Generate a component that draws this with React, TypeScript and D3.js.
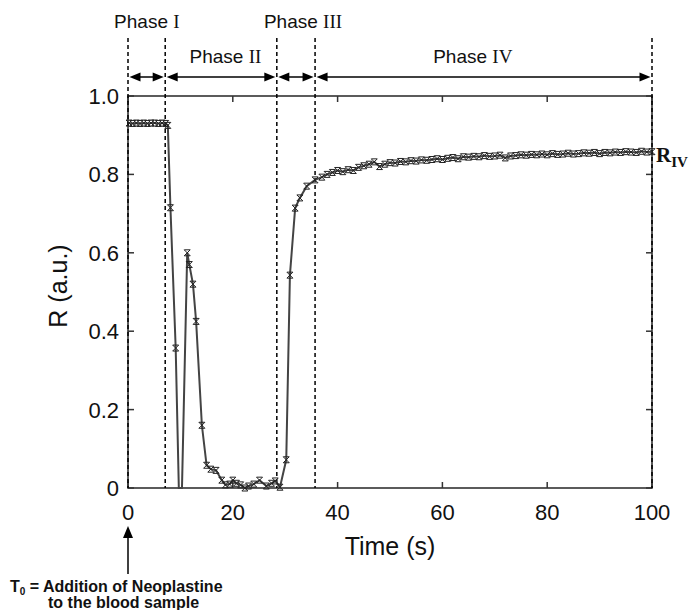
import React from "react";
import * as d3 from "d3";

const times: number[] = [
  0.2, 0.9, 1.6, 2.3, 3.0, 3.7, 4.4, 5.1, 5.8, 6.5, 7.2, 7.6,
  8.1, 9.1, 9.7, 10.3, 11.3, 11.7, 12.4, 13.0, 14.1, 15.0, 15.8, 16.8,
  17.9, 18.6, 19.4, 20.0, 20.7, 21.5, 22.3, 23.0, 24.0, 25.1, 26.4, 27.4,
  28.1, 29.0, 30.2, 30.9, 31.9, 32.8, 34.1, 35.7, 37, 38, 39, 40,
  41, 42, 43, 44, 45, 46, 47, 48, 49, 50, 51, 52, 53, 54, 55, 56, 57, 58, 59, 60,
  61, 62, 63, 64, 65, 66, 67, 68, 69, 70, 71, 72, 73, 74, 75, 76, 77, 78, 79, 80,
  81, 82, 83, 84, 85, 86, 87, 88, 89, 90, 91, 92, 93, 94, 95, 96, 97, 98, 99, 100,
];
const rValues: number[] = [
  0.931, 0.930, 0.931, 0.930, 0.931, 0.930, 0.931, 0.931, 0.930, 0.931, 0.930, 0.925,
  0.715, 0.357, 0.0, 0.0, 0.6, 0.57, 0.52, 0.425, 0.16, 0.058, 0.048, 0.045,
  0.02, 0.008, 0.01, 0.02, 0.012, 0.008, 0.0, 0.005, 0.01, 0.02, 0.005, 0.012,
  0.018, 0.002, 0.072, 0.543, 0.714, 0.74, 0.77, 0.786, 0.793, 0.8, 0.805, 0.81,
  0.807, 0.812, 0.81, 0.818, 0.822, 0.826, 0.832, 0.82, 0.826, 0.83, 0.829, 0.833, 0.832, 0.835, 0.834, 0.837, 0.836, 0.838, 0.84, 0.838,
  0.841, 0.843, 0.84, 0.845, 0.844, 0.846, 0.845, 0.848, 0.846, 0.847, 0.849, 0.842, 0.847, 0.848, 0.85, 0.849, 0.851, 0.85, 0.852, 0.85,
  0.853, 0.851, 0.852, 0.854, 0.852, 0.853, 0.855, 0.854, 0.856, 0.853, 0.856, 0.855, 0.857, 0.856, 0.858, 0.857, 0.856, 0.859, 0.857, 0.858,
];
// points in the dip that the line passes through without a marker
const unmarkedTimes: number[] = [9.7, 10.3];

const xTicks: number[] = [0, 20, 40, 60, 80, 100];
const yTicks: number[] = [0, 0.2, 0.4, 0.6, 0.8, 1.0];
const yTickLabels: string[] = ["0", "0.2", "0.4", "0.6", "0.8", "1.0"];
const phaseBounds: number[] = [0, 7.1, 28.4, 35.7, 100];
const phaseNames: string[] = ["I", "II", "III", "IV"];
const phaseLabelT: number[] = [3.6, 18.6, 33.4, 65.8];
const phaseLabelRow: number[] = [0, 1, 0, 1];

const W = 693;
const H = 610;
const left = 128, right = 652, top = 96, bottom = 488;

export default function App() {
  const x = d3.scaleLinear().domain([0, 100]).range([left, right]);
  const y = d3.scaleLinear().domain([0, 1]).range([bottom, top]);
  const pts = times.map((t, i) => [t, rValues[i]] as [number, number]);
  const line = d3.line<[number, number]>().x((d) => x(d[0])).y((d) => y(d[1]));
  const sans = "Arial, 'Liberation Sans', Helvetica, sans-serif";
  const serif = "'Times New Roman', 'Liberation Serif', Times, serif";
  const arrowY = 77;
  const ms = 3;
  const tickLen = 6;
  const axisColor = "#333";

  const arrowHead = (tipX: number, dir: number, yy: number) => {
    const l = 11, h = 4.5;
    return `M${tipX},${yy} L${tipX - dir * l},${yy - h} L${tipX - dir * l},${yy + h} Z`;
  };

  return (
    <svg width={W} height={H} style={{ position: "absolute", left: 0, top: 0, background: "#fff" }}>
      {/* frame */}
      <rect x={left} y={top} width={right - left} height={bottom - top} fill="none" stroke={axisColor} strokeWidth={1.6} />
      {/* ticks */}
      {xTicks.map((t) => (
        <g key={"xt" + t}>
          <line x1={x(t)} x2={x(t)} y1={bottom} y2={bottom - tickLen} stroke={axisColor} strokeWidth={1.5} />
          <line x1={x(t)} x2={x(t)} y1={top} y2={top + tickLen} stroke={axisColor} strokeWidth={1.5} />
          <text x={x(t)} y={520} textAnchor="middle" fontFamily={sans} fontSize={22} fill="#111">{t}</text>
        </g>
      ))}
      {yTicks.map((v, i) => (
        <g key={"yt" + v}>
          <line x1={left} x2={left + tickLen} y1={y(v)} y2={y(v)} stroke={axisColor} strokeWidth={1.5} />
          <line x1={right} x2={right - tickLen} y1={y(v)} y2={y(v)} stroke={axisColor} strokeWidth={1.5} />
          <text x={119} y={y(v) + 8} textAnchor="end" fontFamily={sans} fontSize={22} fill="#111">{yTickLabels[i]}</text>
        </g>
      ))}
      {/* dashed phase lines */}
      {phaseBounds.map((t) => (
        <line key={"pb" + t} x1={x(t)} x2={x(t)} y1={38} y2={bottom} stroke="#000" strokeWidth={1.5} strokeDasharray="4,3" />
      ))}
      {/* phase arrows */}
      {phaseNames.map((n, i) => {
        const a = x(phaseBounds[i]) + 1.5;
        const b = x(phaseBounds[i + 1]) - 1.5;
        return (
          <g key={"pa" + n}>
            <line x1={a + 4} x2={b - 4} y1={arrowY} y2={arrowY} stroke="#000" strokeWidth={1.5} />
            <path d={arrowHead(a, -1, arrowY)} fill="#000" />
            <path d={arrowHead(b, 1, arrowY)} fill="#000" />
          </g>
        );
      })}
      {/* phase labels */}
      {phaseNames.map((n, i) => (
        <text key={"pl" + n} x={x(phaseLabelT[i])} y={phaseLabelRow[i] === 0 ? 28 : 63} textAnchor="middle" fontSize={19} fill="#111">
          <tspan fontFamily={sans}>Phase </tspan>
          <tspan fontFamily={serif}>{n}</tspan>
        </text>
      ))}
      {/* data line */}
      <path d={line(pts) || ""} fill="none" stroke="#444" strokeWidth={2} />
      {pts
        .filter((d) => !unmarkedTimes.includes(d[0]))
        .map((d, i) => (
          <path
            key={"m" + i}
            d={`M${x(d[0]) - ms},${y(d[1]) - ms} L${x(d[0]) + ms},${y(d[1]) + ms} M${x(d[0]) - ms},${y(d[1]) + ms} L${x(d[0]) + ms},${y(d[1]) - ms} M${x(d[0]) - ms},${y(d[1]) - ms} L${x(d[0]) + ms},${y(d[1]) - ms} M${x(d[0]) - ms},${y(d[1]) + ms} L${x(d[0]) + ms},${y(d[1]) + ms}`}
            stroke="#222"
            strokeWidth={1}
            fill="none"
          />
        ))}
      {/* R_IV label */}
      <text x={656} y={162} fontFamily={serif} fontWeight="bold" fontSize={21} fill="#111">
        R<tspan fontSize={15} dy={5}>IV</tspan>
      </text>
      {/* axis titles */}
      <text x={390} y={555} textAnchor="middle" fontFamily={sans} fontSize={25} fill="#111">Time (s)</text>
      <text transform={`translate(67,286) rotate(-90)`} textAnchor="middle" fontFamily={sans} fontSize={25} fill="#111">R (a.u.)</text>
      {/* T0 annotation */}
      <line x1={x(0)} x2={x(0)} y1={574} y2={536} stroke="#000" strokeWidth={1.5} />
      <path d={`M${x(0)},${526} L${x(0) - 5},${538} L${x(0) + 5},${538} Z`} fill="#000" />
      <text x={10} y={592} fontFamily={sans} fontWeight="bold" fontSize={16} fill="#111">
        T<tspan fontSize={10} dy={3}>0</tspan><tspan dy={-3}> = Addition of Neoplastine</tspan>
      </text>
      <text x={48} y={608} fontFamily={sans} fontWeight="bold" fontSize={16} fill="#111">to the blood sample</text>
    </svg>
  );
}
